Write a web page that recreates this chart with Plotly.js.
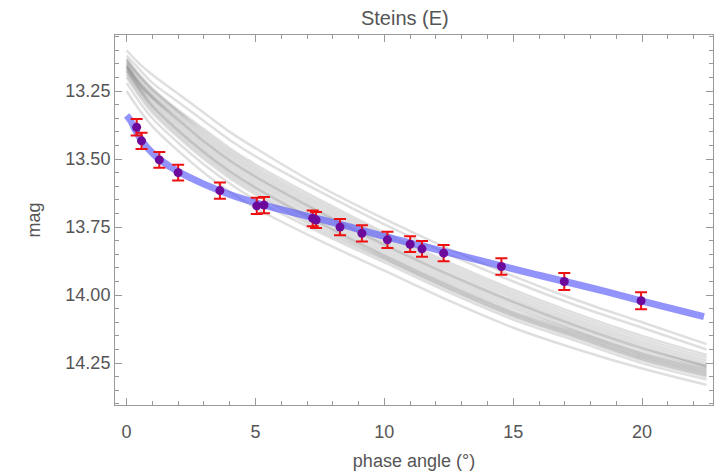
<!DOCTYPE html>
<html>
<head>
<meta charset="utf-8">
<script src="https://cdn.plot.ly/plotly-3.0.1.min.js"></script>
<style>html,body{margin:0;padding:0;background:#fff;}#chart{width:723px;height:474px;}</style>
</head>
<body>
<div id="chart"></div>
<script>
// Observations: phase angle (deg), magnitude, uncertainty
var obsPhase = [0.39, 0.58, 1.27, 2.0, 3.62, 5.05, 5.33, 7.22, 7.35, 8.28, 9.13, 10.12, 11.0, 11.46, 12.3, 14.54, 16.98, 19.96];
var obsMag   = [13.383, 13.433, 13.503, 13.55, 13.616, 13.672, 13.669, 13.718, 13.724, 13.75, 13.773, 13.797, 13.813, 13.83, 13.846, 13.895, 13.95, 14.021];
var obsErr   = [0.03, 0.03, 0.029, 0.029, 0.03, 0.03, 0.03, 0.029, 0.029, 0.03, 0.03, 0.03, 0.029, 0.029, 0.03, 0.03, 0.031, 0.031];

// Best-fit curve (blue)
var fitPhase = [0, 0.15, 0.35, 0.65, 1.0, 1.3, 2.0, 3.0, 4.0, 5.0, 6.0, 7.0, 8.0, 10.0, 12.0, 14.0, 16.0, 18.0, 20.0, 22.4];
var fitMag   = [13.340, 13.358, 13.395, 13.440, 13.478, 13.503, 13.546, 13.592, 13.630, 13.660, 13.686, 13.710, 13.733, 13.784, 13.832, 13.880, 13.927, 13.973, 14.022, 14.079];

// Sampled model curves (grey)
var samplePhase = [0, 0.5, 1, 2, 3, 4, 5, 7.5, 10, 12.5, 15, 17.5, 20, 22.5];
var sample1  = [13.10, 13.15, 13.19, 13.26, 13.33, 13.40, 13.46, 13.60, 13.72, 13.83, 13.93, 14.02, 14.10, 14.18];
var sample2  = [13.12, 13.17, 13.22, 13.29, 13.36, 13.43, 13.49, 13.62, 13.74, 13.85, 13.95, 14.04, 14.12, 14.20];
var sample3  = [13.13, 13.19, 13.24, 13.32, 13.39, 13.46, 13.52, 13.65, 13.77, 13.88, 13.98, 14.07, 14.15, 14.22];
var sample4  = [13.135, 13.195, 13.245, 13.325, 13.40, 13.47, 13.53, 13.66, 13.78, 13.89, 13.99, 14.08, 14.16, 14.23];
var sample5  = [13.14, 13.20, 13.25, 13.33, 13.41, 13.48, 13.54, 13.67, 13.79, 13.90, 14.00, 14.09, 14.17, 14.24];
var sample6  = [13.145, 13.21, 13.26, 13.34, 13.42, 13.49, 13.55, 13.68, 13.80, 13.91, 14.01, 14.10, 14.18, 14.25];
var sample7  = [13.15, 13.22, 13.27, 13.35, 13.43, 13.50, 13.56, 13.69, 13.81, 13.92, 14.02, 14.11, 14.19, 14.26];
var sample8  = [13.155, 13.225, 13.275, 13.36, 13.44, 13.51, 13.57, 13.70, 13.82, 13.93, 14.03, 14.12, 14.20, 14.265];
var sample9  = [13.16, 13.22, 13.27, 13.355, 13.435, 13.505, 13.565, 13.695, 13.815, 13.925, 14.025, 14.115, 14.195, 14.26];
var sample10 = [13.16, 13.23, 13.28, 13.37, 13.45, 13.52, 13.58, 13.71, 13.83, 13.94, 14.04, 14.13, 14.21, 14.27];
var sample11 = [13.165, 13.235, 13.29, 13.38, 13.46, 13.53, 13.59, 13.72, 13.84, 13.95, 14.05, 14.135, 14.215, 14.275];
var sample12 = [13.17, 13.24, 13.30, 13.39, 13.47, 13.54, 13.60, 13.73, 13.85, 13.96, 14.06, 14.14, 14.22, 14.28];
var sample13 = [13.175, 13.245, 13.305, 13.395, 13.475, 13.545, 13.605, 13.735, 13.855, 13.965, 14.065, 14.145, 14.225, 14.285];
var sample14 = [13.18, 13.25, 13.31, 13.40, 13.48, 13.55, 13.61, 13.74, 13.86, 13.97, 14.07, 14.15, 14.23, 14.29];
var sample15 = [13.19, 13.26, 13.32, 13.41, 13.49, 13.56, 13.62, 13.75, 13.865, 13.975, 14.075, 14.155, 14.235, 14.295];
var sample16 = [13.20, 13.27, 13.33, 13.42, 13.50, 13.57, 13.63, 13.76, 13.87, 13.98, 14.08, 14.16, 14.24, 14.30];
var sample17 = [13.22, 13.29, 13.35, 13.44, 13.52, 13.59, 13.65, 13.77, 13.88, 13.99, 14.09, 14.17, 14.25, 14.31];
var sample18 = [13.25, 13.32, 13.38, 13.47, 13.55, 13.62, 13.68, 13.80, 13.91, 14.02, 14.12, 14.20, 14.27, 14.33];
var samples = [sample1, sample2, sample3, sample4, sample5, sample6, sample7, sample8, sample9,
               sample10, sample11, sample12, sample13, sample14, sample15, sample16, sample17, sample18];

var xTickVals = [0, 5, 10, 15, 20];
var yTickVals = [13.25, 13.50, 13.75, 14.00, 14.25];

var FONT = 'Liberation Sans, Arial, sans-serif';

var traces = [];
samples.forEach(function (s) {
  traces.push({
    x: samplePhase, y: s, type: 'scatter', mode: 'lines',
    line: {color: 'rgba(95,95,95,0.2)', width: 2.5, shape: 'spline'},
    hoverinfo: 'skip', showlegend: false
  });
});
traces.push({
  x: fitPhase, y: fitMag, type: 'scatter', mode: 'lines',
  line: {color: 'rgba(80,80,250,0.62)', width: 7, shape: 'spline'},
  showlegend: false
});
traces.push({
  x: obsPhase, y: obsMag, type: 'scatter', mode: 'markers',
  marker: {color: '#6c0a9c', size: 9},
  error_y: {type: 'data', array: obsErr, visible: true, color: '#ee1111', thickness: 2, width: 6},
  showlegend: false
});

var axisCommon = {
  showline: true, linecolor: '#999', linewidth: 1, mirror: 'allticks',
  ticks: 'inside', tickcolor: '#999', ticklen: 7, tickwidth: 1,
  showgrid: false, zeroline: false,
  tickfont: {family: FONT, size: 18, color: '#555'}
};

var layout = {
  width: 723, height: 474,
  margin: {l: 115, r: 10, t: 35, b: 69},
  paper_bgcolor: '#fff', plot_bgcolor: '#fff',
  title: {text: 'Steins (E)', x: 0.56, xref: 'container', xanchor: 'center', y: 0.962, yref: 'container', yanchor: 'middle',
          font: {family: FONT, size: 20, color: '#555'}},
  xaxis: Object.assign({}, axisCommon, {
    range: [-0.45, 22.75], tickvals: xTickVals, ticktext: xTickVals.map(String),
    ticklabelstandoff: 10,
    minor: {ticks: 'inside', dtick: 1, tick0: 0, ticklen: 4, tickcolor: '#999'},
    title: {text: 'phase angle (°)', standoff: 13, font: {family: FONT, size: 18, color: '#555'}}
  }),
  yaxis: Object.assign({}, axisCommon, {
    range: [14.404, 13.044], tickvals: yTickVals, ticktext: yTickVals.map(function (v) { return v.toFixed(2); }),
    minor: {ticks: 'inside', dtick: 0.05, tick0: 13.0, ticklen: 4, tickcolor: '#999'},
    title: {text: 'mag', standoff: 20, font: {family: FONT, size: 18, color: '#555'}}
  })
};

Plotly.newPlot('chart', traces, layout, {displayModeBar: false, staticPlot: true});
</script>
</body>
</html>
